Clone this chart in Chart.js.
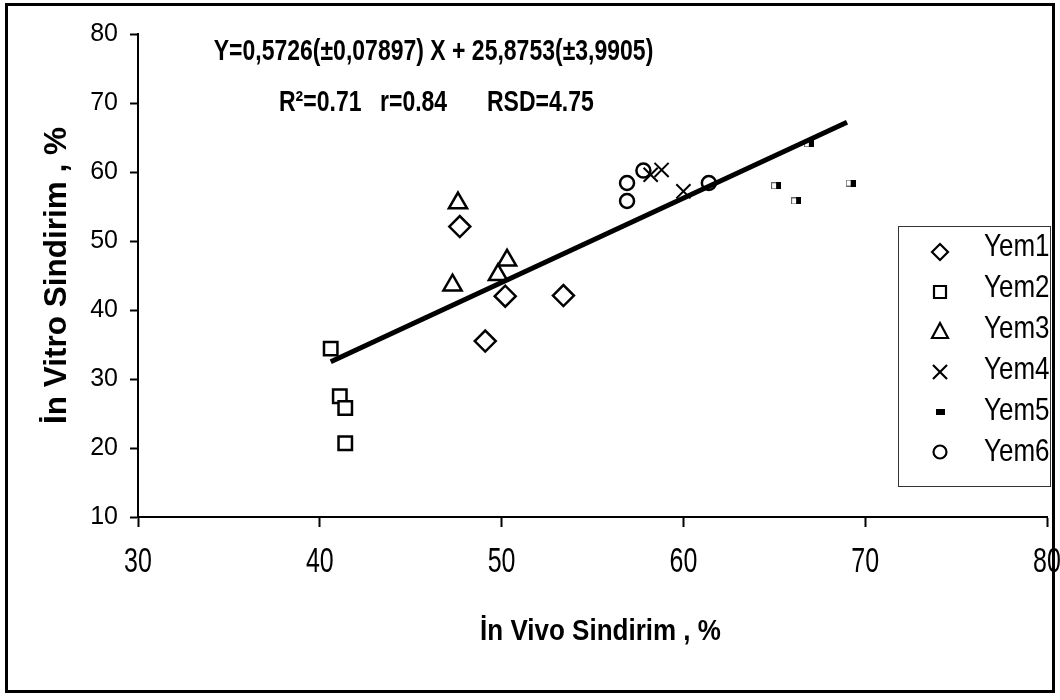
<!DOCTYPE html>
<html><head><meta charset="utf-8">
<script src="https://cdn.jsdelivr.net/npm/chart.js@4.4.1/dist/chart.umd.min.js"></script>
<style>html,body{margin:0;padding:0;background:#fff;}#wrap{width:1060px;height:700px;}</style>
</head><body><div id="wrap"><canvas id="c" width="1060" height="700"></canvas></div>
<script>
// ---- data ----
const seriesNames = ['Yem1', 'Yem2', 'Yem3', 'Yem4', 'Yem5', 'Yem6'];
const yem1X = [47.7, 50.2, 53.4, 49.1];
const yem1Y = [52.1, 42.0, 42.1, 35.5];
const yem2X = [40.6, 41.1, 41.4, 41.4];
const yem2Y = [34.4, 27.5, 25.8, 20.7];
const yem3X = [47.6, 50.3, 49.8, 47.3];
const yem3Y = [55.5, 47.2, 45.1, 43.6];
const yem4X = [58.2, 58.8, 60.0];
const yem4Y = [59.6, 60.3, 57.2];
const yem5X = [65.1, 66.2, 69.2, 66.9];
const yem5Y = [58.0, 55.8, 58.4, 64.1];
const yem6X = [56.9, 56.9, 57.8, 61.4];
const yem6Y = [58.4, 55.8, 60.2, 58.4];
const trendX = [40.6, 69.0];
const trendY = [32.5, 67.2];
const xTicks = [30, 40, 50, 60, 70, 80];
const yTicks = [10, 20, 30, 40, 50, 60, 70, 80];
const xTitle = 'İn Vivo Sindirim , %';
const yTitle = 'İn Vitro Sindirim , %';
const eqLine1 = 'Y=0,5726(±0,07897) X + 25,8753(±3,9905)';
const eqLine2 = ['R²=0.71', 'r=0.84', 'RSD=4.75'];

const pts = (xs, ys) => xs.map((x, i) => ({x: x, y: ys[i]}));

// Yem5 marker: small half-filled rectangle
const m5 = document.createElement('canvas');
m5.width = 10; m5.height = 7;
(function(){
  const g = m5.getContext('2d');
  g.fillStyle = '#fff'; g.fillRect(0, 0, 10, 7);
  g.strokeStyle = '#666'; g.lineWidth = 1; g.strokeRect(0.5, 0.5, 9, 6);
  g.fillStyle = '#000'; g.fillRect(5, 0, 5, 7);
})();

const SANS = '"Liberation Sans", Arial, sans-serif';

const common = {type: 'scatter', showLine: false, backgroundColor: '#fff', borderColor: '#000', order: 1};
const datasets = [
  Object.assign({}, common, {label: seriesNames[0], data: pts(yem1X, yem1Y), pointStyle: 'rectRot', pointRadius: 10.5, borderWidth: 2.5}),
  Object.assign({}, common, {label: seriesNames[1], data: pts(yem2X, yem2Y), pointStyle: 'rect', pointRadius: 9.5, borderWidth: 2.5}),
  Object.assign({}, common, {label: seriesNames[2], data: pts(yem3X, yem3Y), pointStyle: 'triangle', pointRadius: 10.5, borderWidth: 2.5}),
  Object.assign({}, common, {label: seriesNames[3], data: pts(yem4X, yem4Y), pointStyle: 'crossRot', pointRadius: 10, borderWidth: 2}),
  Object.assign({}, common, {label: seriesNames[4], data: pts(yem5X, yem5Y), pointStyle: m5, pointRadius: 5, borderWidth: 0}),
  Object.assign({}, common, {label: seriesNames[5], data: pts(yem6X, yem6Y), pointStyle: 'circle', pointRadius: 7, borderWidth: 2.5}),
  {type: 'line', label: 'trend', data: pts(trendX, trendY), borderColor: '#000', borderWidth: 5, pointRadius: 0, fill: false, order: -1, borderCapStyle: 'butt'}
];

function drawLegendMarker(ctx, i, x, y) {
  ctx.save();
  ctx.strokeStyle = '#000'; ctx.fillStyle = '#fff'; ctx.lineWidth = 2.2;
  ctx.beginPath();
  if (i === 0) { const r = 8; ctx.moveTo(x, y - r); ctx.lineTo(x + r, y); ctx.lineTo(x, y + r); ctx.lineTo(x - r, y); ctx.closePath(); ctx.fill(); ctx.stroke(); }
  else if (i === 1) { ctx.rect(x - 6, y - 6, 12, 12); ctx.fill(); ctx.stroke(); }
  else if (i === 2) { ctx.moveTo(x, y - 9); ctx.lineTo(x + 8, y + 6); ctx.lineTo(x - 8, y + 6); ctx.closePath(); ctx.fill(); ctx.stroke(); }
  else if (i === 3) { ctx.moveTo(x - 7, y - 7); ctx.lineTo(x + 7, y + 7); ctx.moveTo(x + 7, y - 7); ctx.lineTo(x - 7, y + 7); ctx.stroke(); }
  else if (i === 4) { ctx.fillStyle = '#000'; ctx.fillRect(x - 4, y - 3, 9, 6); }
  else { ctx.arc(x, y, 6.5, 0, Math.PI * 2); ctx.fill(); ctx.stroke(); }
  ctx.restore();
}

// text drawn with a vertical stretch about its middle line
function stretchedText(ctx, text, x, yMid, k, align) {
  ctx.save();
  ctx.translate(x, yMid);
  ctx.scale(1, k);
  ctx.textAlign = align;
  ctx.textBaseline = 'middle';
  ctx.fillText(text, 0, 0);
  ctx.restore();
}

function stretchAbout(ctx, dx, yc, k, fn) {
  ctx.save();
  ctx.translate(dx, yc); ctx.scale(1, k); ctx.translate(0, -yc);
  fn();
  ctx.restore();
}

const decor = {
  id: 'decor',
  beforeDraw(chart) {
    const ctx = chart.ctx;
    ctx.save(); ctx.fillStyle = '#fff'; ctx.fillRect(0, 0, chart.width, chart.height); ctx.restore();
    const sx = chart.scales.x;
    if (sx && !sx.__patched) {
      sx.__patched = true;
      const oL = sx.drawLabels, oT = sx.drawTitle;
      sx.drawLabels = function(a) { stretchAbout(this.ctx, 0, 561, 1.42, () => oL.call(this, a)); };
      sx.drawTitle = function() { stretchAbout(this.ctx, 8, 631, 1.15, () => oT.call(this)); };
    }
  },
  afterDraw(chart) {
    const ctx = chart.ctx;
    ctx.save();
    // outer frame
    ctx.strokeStyle = '#000'; ctx.lineWidth = 3;
    ctx.strokeRect(6.5, 4.5, 1047, 687);
    // equation text
    ctx.fillStyle = '#000';
    ctx.font = 'bold 23px ' + SANS;
    stretchedText(ctx, eqLine1, 433.5, 52, 1.25, 'center');
    const xs = [279, 380, 487];
    eqLine2.forEach((t, i) => stretchedText(ctx, t, xs[i], 103, 1.25, 'left'));
    // legend
    const L = 898.5, T = 226.5, W = 152, H = 260;
    ctx.fillStyle = '#fff'; ctx.fillRect(L, T, W, H);
    ctx.strokeStyle = '#333'; ctx.lineWidth = 1; ctx.strokeRect(L, T, W, H);
    seriesNames.forEach((n, i) => drawLegendMarker(ctx, i, 940, 252 + 40 * i));
    ctx.save();
    ctx.beginPath(); ctx.rect(L, T, W - 0.5, H); ctx.clip();
    ctx.fillStyle = '#000';
    ctx.font = '26px ' + SANS;
    seriesNames.forEach((n, i) => stretchedText(ctx, n, 984, 248 + 41 * i, 1.18, 'left'));
    ctx.restore();
    ctx.restore();
  }
};

new Chart(document.getElementById('c'), {
  type: 'scatter',
  data: {datasets: datasets},
  options: {
    responsive: false,
    animation: false,
    devicePixelRatio: 1,
    layout: {padding: {top: 34, right: 11, left: 0, bottom: 0}},
    plugins: {legend: {display: false}, tooltip: {enabled: false}},
    scales: {
      x: {
        type: 'linear', position: 'bottom', min: 30, max: 80,
        afterBuildTicks: s => { s.ticks = xTicks.map(v => ({value: v})); },
        afterFit: s => { s.height = 183; s.paddingLeft = 0; s.paddingRight = 0; },
        ticks: {color: '#000', font: {family: SANS, size: 25}, padding: 20, maxRotation: 0, autoSkip: false},
        grid: {drawOnChartArea: false, drawTicks: true, tickLength: 10, tickColor: '#000', tickWidth: 2},
        border: {display: true, color: '#000', width: 2},
        title: {display: true, text: xTitle, color: '#000', font: {family: SANS, size: 26, weight: 'bold'}, padding: {top: 0, bottom: 53}}
      },
      y: {
        type: 'linear', position: 'left', min: 10, max: 80,
        afterBuildTicks: s => { s.ticks = yTicks.map(v => ({value: v})); },
        afterFit: s => { s.width = 138; s.paddingTop = 0; s.paddingBottom = 0; },
        ticks: {color: '#000', font: {family: SANS, size: 25}, padding: 12, autoSkip: false},
        grid: {drawOnChartArea: false, drawTicks: true, tickLength: 8, tickColor: '#000', tickWidth: 2},
        border: {display: true, color: '#000', width: 2},
        title: {display: true, text: yTitle, color: '#000', font: {family: SANS, size: 31.5, weight: 'bold'}, padding: {top: 38, bottom: 0}}
      }
    }
  },
  plugins: [decor]
});
</script>
</body></html>
